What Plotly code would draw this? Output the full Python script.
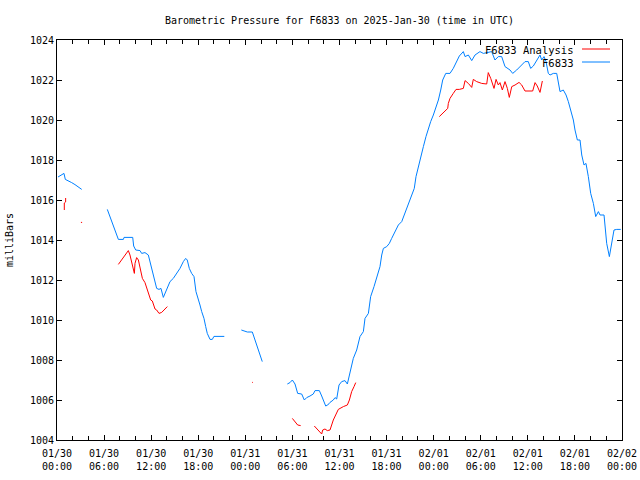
import plotly.graph_objects as go
from datetime import datetime, timedelta

START = datetime(2025, 1, 30, 0, 0)

# Hours since 2025-01-30 00:00 UTC; None marks a gap in the record
blue_hours = [0.13, 0.89, 1.06, 1.44, 1.87, 2.29, 2.71, 3.15, None,
              6.41, 6.75, 7.18, 7.52, 7.82, 8.46, 8.54, 9.65, 9.77, 10.03, 10.58, 10.79, 11.21, 11.64,
              11.8, 12.07, 12.36, 12.7, 13.0, 13.25, 13.55, 13.98, 14.19, 14.4, 14.82, 15.25, 15.67,
              16.1, 16.4, 16.6, 16.86, 17.16, 17.46, 17.71, 18.0, 18.22, 18.44, 18.73, 18.95, 19.15,
              19.5, 19.79, 20.0, 21.32, None,
              23.49, 23.96, 24.25, 24.89, 25.1, 25.45, 25.87, 26.16, None,
              29.35, 29.69, 29.99, 30.33, 30.67, 31.18, 31.52, 31.82, 32.24, 32.66, 32.88, 33.43,
              33.73, 34.02, 34.24, 34.5, 34.79, 35.21, 35.43, 35.64, 35.85, 35.94, 36.28, 36.7, 37.0,
              37.34, 37.76, 38.19, 38.61, 39.04, 39.25, 39.68, 39.97, 40.4, 40.74, 41.16, 41.38,
              41.59, 42.02, 42.35, 42.65, 43.07, 43.5, 43.93, 44.35, 44.77, 45.2, 45.53, 45.75,
              46.05, 46.35, 46.69, 47.02, 47.32, 47.62, 47.96, 48.39, 48.6, 48.9, 49.15, 49.54,
              50.08, 50.5, 50.94, 51.27, 51.78, 52.0, 52.42, 52.85, 53.27, 53.9, 54.33, 54.96, 55.39,
              55.81, 56.24, 56.67, 57.09, 57.73, 58.07, 58.58, 59.22, 59.64, 60.06, 60.36, 60.7,
              61.13, 61.34, 61.55, 61.77, 62.06, 62.32, 62.61, 62.83, 63.25, 63.68, 63.89, 64.1,
              64.52, 64.87, 65.16, 65.47, 65.8, 66.01, 66.31, 66.65, 66.87, 67.16, 67.41, 67.71,
              68.01, 68.35, 68.65, 68.99, 69.2, 69.71, 69.84, 70.05, 70.39, 70.69, 70.98, 71.33, 71.84]
blue_mb = [1017.15, 1017.33, 1017.03, 1016.97, 1016.87, 1016.77, 1016.67, 1016.53, None,
           1015.53, 1015.17, 1014.75, 1014.37, 1014.03, 1014.03, 1014.13, 1014.13, 1013.7, 1013.5,
           1013.47, 1013.33, 1013.37, 1013.25, 1013.0, 1012.5, 1012.0, 1011.58, 1011.53, 1011.58,
           1011.13, 1011.58, 1011.75, 1011.92, 1012.08, 1012.33, 1012.58, 1012.92, 1013.08, 1013.0,
           1012.58, 1012.33, 1012.17, 1011.42, 1011.08, 1010.75, 1010.42, 1010.08, 1009.67,
           1009.33, 1009.03, 1009.03, 1009.18, 1009.18, None,
           1009.5, 1009.45, 1009.4, 1009.4, 1009.17, 1008.7, 1008.25, 1007.92, None,
           1006.8, 1006.87, 1007.0, 1006.8, 1006.33, 1006.3, 1006.0, 1006.12, 1006.2, 1006.3,
           1006.47, 1006.47, 1006.2, 1005.92, 1005.7, 1005.75, 1005.88, 1006.0, 1006.12, 1006.05,
           1006.42, 1006.75, 1006.92, 1006.97, 1006.8, 1007.35, 1008.08, 1008.5, 1009.17, 1009.42,
           1010.08, 1010.33, 1011.17, 1011.67, 1012.17, 1012.67, 1013.25, 1013.58, 1013.67,
           1013.83, 1014.08, 1014.42, 1014.75, 1014.92, 1015.33, 1015.83, 1016.25, 1016.58,
           1017.17, 1017.67, 1018.25, 1018.67, 1019.17, 1019.58, 1019.92, 1020.25, 1020.75,
           1021.0, 1021.5, 1022.0, 1022.33, 1022.33, 1022.58, 1022.92, 1023.2, 1023.42, 1023.17,
           1023.25, 1022.97, 1023.25, 1023.42, 1023.33, 1023.37, 1023.42, 1023.0, 1023.17,
           1023.17, 1022.67, 1022.5, 1022.33, 1022.5, 1022.75, 1022.92, 1022.92, 1022.58, 1022.7,
           1023.0, 1023.13, 1023.25, 1023.0, 1023.17, 1022.92, 1022.33, 1022.25, 1022.33,
           1022.33, 1021.92, 1021.42, 1021.5, 1021.25, 1020.92, 1020.42, 1020.0, 1019.5, 1019.0,
           1019.0, 1018.25, 1017.75, 1017.83, 1017.17, 1016.33, 1015.83, 1015.17, 1015.42,
           1015.25, 1015.25, 1014.67, 1013.83, 1013.17, 1013.92, 1014.5, 1014.53, 1014.53]

red_hours = [0.93, 0.93, 1.1, 1.1, None, 3.05, 3.2, None,
             7.82, 8.24, 8.67, 9.09, 9.3, 9.6, 9.86, 9.94, 10.15, 10.37, 10.58, 10.88, 11.21, 11.51,
             11.94, 12.15, 12.49, 12.7, 13.0, 13.34, 13.76, 14.06, None,
             24.85, 24.95, None,
             29.99, 30.33, 30.67, 31.05, None,
             32.79, 33.09, 33.43, 33.73, 33.86, 34.15, 34.45, 34.79, 35.21, 35.85, 36.49, 37.0,
             37.26, 37.55, 37.85, 38.07, None,
             48.72, 49.23, 49.79, 49.87, 50.08, 50.5, 50.85, 51.27, 51.78, 52.0, 52.42, 52.85,
             53.05, 53.48, 54.12, 54.76, 54.96, 55.27, 55.69, 55.95, 56.24, 56.45, 56.75, 57.09,
             57.39, 57.64, 57.95, 58.37, 58.88, 59.22, 59.64, 60.62, 60.92, 61.2, 61.55, 61.85]
red_mb = [1015.5, 1015.85, 1015.9, 1016.1, None, 1014.88, 1014.88, None,
          1012.78, 1013.03, 1013.25, 1013.47, 1013.25, 1012.75, 1012.33, 1012.83, 1013.12, 1013.0,
          1012.58, 1012.08, 1011.87, 1011.5, 1011.0, 1010.95, 1010.55, 1010.5, 1010.33, 1010.38,
          1010.55, 1010.67, None,
          1006.88, 1006.88, None,
          1005.08, 1004.92, 1004.75, 1004.72, None,
          1004.7, 1004.58, 1004.45, 1004.3, 1004.5, 1004.55, 1004.47, 1004.5, 1005.0, 1005.53,
          1005.67, 1005.75, 1006.0, 1006.42, 1006.67, 1006.87, None,
          1020.17, 1020.37, 1020.58, 1020.83, 1021.08, 1021.33, 1021.53, 1021.53, 1021.58,
          1021.97, 1021.83, 1021.63, 1022.03, 1021.92, 1021.83, 1021.8, 1022.37, 1022.08,
          1021.58, 1022.03, 1021.75, 1021.87, 1021.5, 1021.92, 1021.58, 1021.13, 1021.67,
          1021.75, 1021.88, 1021.75, 1021.45, 1021.45, 1021.87, 1021.7, 1021.38, 1021.95]

tick_hours = [0, 6, 12, 18, 24, 30, 36, 42, 48, 54, 60, 66, 72]
tick_labels = ["01/30<br>00:00", "01/30<br>06:00", "01/30<br>12:00", "01/30<br>18:00",
               "01/31<br>00:00", "01/31<br>06:00", "01/31<br>12:00", "01/31<br>18:00",
               "02/01<br>00:00", "02/01<br>06:00", "02/01<br>12:00", "02/01<br>18:00",
               "02/02<br>00:00"]
y_ticks = [1004, 1006, 1008, 1010, 1012, 1014, 1016, 1018, 1020, 1022, 1024]


def to_time(hours):
    return [None if h is None else START + timedelta(hours=h) for h in hours]


FONT = "DejaVu Sans Mono"
RED = "#ff0000"
BLUE = "#0080ff"

fig = go.Figure()
fig.add_trace(go.Scatter(x=to_time(red_hours), y=red_mb, mode="lines", name="F6833 Analysis",
                         line=dict(color=RED, width=1), connectgaps=False))
fig.add_trace(go.Scatter(x=to_time(blue_hours), y=blue_mb, mode="lines", name="F6833",
                         line=dict(color=BLUE, width=1), connectgaps=False))

L, R, T, B = 57, 18, 40, 40
W, H = 640, 480
pw, ph = W - L - R, H - T - B


def px(xp):
    return (xp - L) / pw


def py(yp):
    return (H - B - yp) / ph


legend_items = [("F6833 Analysis", RED, 50, 49), ("F6833", BLUE, 63, 62)]
annotations = []
shapes = []
for text, col, ty, ly in legend_items:
    annotations.append(dict(text=text, xref="paper", yref="paper", x=px(576), y=py(ty),
                            xanchor="right", yanchor="middle", showarrow=False,
                            font=dict(family=FONT, size=10.5, color="black")))
    shapes.append(dict(type="line", xref="paper", yref="paper", x0=px(582), x1=px(610),
                       y0=py(ly), y1=py(ly), line=dict(color=col, width=1)))

fig.update_layout(
    width=W, height=H,
    margin=dict(l=L, r=R, t=T, b=B, autoexpand=False),
    paper_bgcolor="white", plot_bgcolor="white",
    showlegend=False,
    font=dict(family=FONT, size=10, color="black"),
    title=dict(text="Barometric Pressure for F6833 on 2025-Jan-30 (time in UTC)",
               xref="paper", x=0.5, xanchor="center", y=1 - 20 / H, yanchor="middle",
               font=dict(family=FONT, size=10, color="black")),
    annotations=annotations,
    shapes=shapes,
    xaxis=dict(type="date", range=[START, START + timedelta(hours=72)], automargin=False,
               tickvals=to_time(tick_hours), ticktext=tick_labels,
               ticks="inside", ticklen=5, tickcolor="black", showgrid=False, zeroline=False,
               showline=True, linecolor="black", linewidth=1, mirror="ticks",
               ticklabelstandoff=4,
               minor=dict(dtick=2 * 3600 * 1000, ticks="inside", ticklen=4, tickcolor="black",
                          showgrid=False),
               tickfont=dict(family=FONT, size=10)),
    yaxis=dict(range=[1004, 1024], tickvals=y_ticks, ticks="inside", ticklen=5, automargin=False,
               tickcolor="black", showgrid=False, zeroline=False, showline=True,
               linecolor="black", linewidth=1, mirror="ticks",
               title=dict(text="milliBars", font=dict(family=FONT, size=10), standoff=14),
               tickfont=dict(family=FONT, size=10)),
)

fig.write_html("out.html")
